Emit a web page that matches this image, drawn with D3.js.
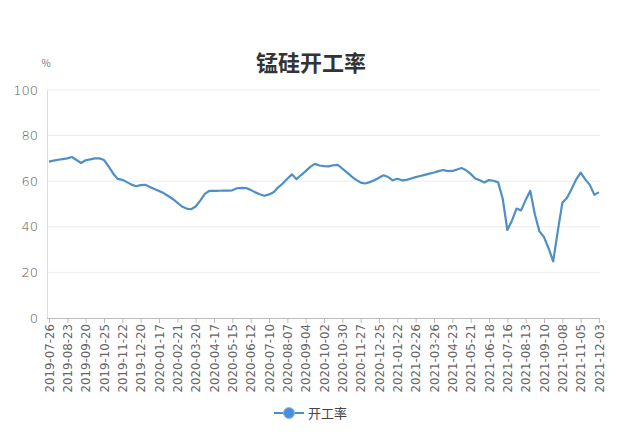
<!DOCTYPE html>
<html><head><meta charset="utf-8">
<script src="https://cdn.jsdelivr.net/npm/d3@7/dist/d3.min.js"></script>
<style>
html,body{margin:0;padding:0;background:#fff;}
svg{display:block;font-family:"Noto Sans CJK SC","Noto Sans",sans-serif;}
</style></head>
<body><svg id="c" width="644" height="440"></svg>
<script>
const title = "锰硅开工率";
const unitLabel = "%";
const seriesName = "开工率";
const yTicks = [0, 20, 40, 60, 80, 100];
const tickLabels = [
  "2019-07-26","2019-08-23","2019-09-20","2019-10-25","2019-11-22","2019-12-20",
  "2020-01-17","2020-02-21","2020-03-20","2020-04-17","2020-05-15","2020-06-12",
  "2020-07-10","2020-08-07","2020-09-04","2020-10-02","2020-10-30","2020-11-27",
  "2020-12-25","2021-01-22","2021-02-26","2021-03-26","2021-04-23","2021-05-21",
  "2021-06-18","2021-07-16","2021-08-13","2021-09-10","2021-10-08","2021-11-05",
  "2021-12-03"
];
const tickStep = 4;
const values = [
  68.6,69.0,69.4,69.7,70.0,70.6,69.3,68.0,69.2,69.6,
  70.0,70.0,69.3,66.5,63.4,61.0,60.6,59.6,58.5,57.8,
  58.3,58.4,57.5,56.6,55.7,54.8,53.5,52.2,50.6,48.9,
  48.0,47.7,48.9,51.5,54.4,55.8,55.8,55.8,55.9,55.9,
  56.0,56.9,57.1,57.0,56.2,55.1,54.3,53.6,54.2,55.2,
  57.3,59.0,61.1,63.0,60.9,62.7,64.4,66.3,67.6,66.9,
  66.6,66.5,67.0,67.2,65.5,63.9,62.1,60.6,59.4,59.0,
  59.6,60.4,61.5,62.6,61.8,60.4,61.1,60.4,60.6,61.2,
  61.8,62.3,62.8,63.3,63.8,64.4,64.9,64.4,64.5,65.1,
  65.8,64.8,63.2,61.2,60.4,59.4,60.5,60.2,59.5,52.2,
  38.6,42.7,48.0,47.2,51.8,55.8,45.5,38.0,35.5,30.6,
  24.8,38.0,50.5,52.6,56.5,60.7,63.8,60.8,58.4,54.0,
  55.2
];

const svg = d3.select("#c");
const pLeft = 47, pRight = 600, pTop = 90, pBottom = 318;
const x = d3.scaleLinear().domain([0, values.length - 1]).range([49, 599]);
const y = d3.scaleLinear().domain([0, 100]).range([pBottom, pTop]);

// gridlines
svg.append("g").selectAll("line").data(yTicks.filter(d => d > 0)).join("line")
  .attr("x1", pLeft).attr("x2", pRight)
  .attr("y1", d => y(d)).attr("y2", d => y(d))
  .attr("stroke", "#ececec").attr("stroke-width", 1);

// y axis
const ya = svg.append("g").attr("transform", `translate(${pLeft},0)`)
  .call(d3.axisLeft(y).tickValues(yTicks).tickSize(0).tickPadding(9));
ya.select(".domain").attr("stroke", "#dcdcdc");
ya.selectAll("text").attr("fill", "#5a5a5a").attr("font-size", 13)
  .attr("font-family", "'DejaVu Sans','Noto Sans',sans-serif").attr("font-weight", 300);

// x axis
const tickIdx = tickLabels.map((_, i) => i * tickStep);
const xa = svg.append("g").attr("transform", `translate(0,${pBottom})`)
  .call(d3.axisBottom(x).tickValues(tickIdx).tickSize(5)
    .tickFormat((d, i) => tickLabels[i]));
xa.select(".domain").attr("stroke", "#bbb").attr("d", `M${pLeft},0.5H${pRight}`);
xa.selectAll(".tick line").attr("stroke", "#bbb");
xa.selectAll("text")
  .attr("fill", "#666").attr("font-size", 11.8)
  .attr("font-family", "'DejaVu Sans','Noto Sans',sans-serif")
  .attr("text-anchor", "end")
  .attr("transform", "rotate(-90)")
  .attr("x", -6).attr("y", 0).attr("dy", "0.35em");

// line
const line = d3.line().x((d, i) => x(i)).y(d => y(d));
svg.append("path").datum(values).attr("d", line)
  .attr("fill", "none").attr("stroke", "#4f8fc6").attr("stroke-width", 2.2)
  .attr("stroke-linejoin", "round");

// title
svg.append("text").attr("x", 311).attr("y", 71).attr("text-anchor", "middle")
  .attr("font-size", 22).attr("font-weight", "bold").attr("fill", "#333")
  .text(title);
svg.append("text").attr("x", 46).attr("y", 67).attr("text-anchor", "middle")
  .attr("font-size", 10).attr("fill", "#777").text(unitLabel);

// legend
const lg = svg.append("g").attr("transform", "translate(289,413)");
lg.append("line").attr("x1", -15).attr("x2", 15).attr("stroke", "#4f8fc6").attr("stroke-width", 2);
lg.append("circle").attr("r", 5.5).attr("fill", "#4a90d9").attr("stroke", "#8bbbe8").attr("stroke-width", 1);
lg.append("text").attr("x", 19).attr("y", 0).attr("dy", "0.35em")
  .attr("font-size", 13).attr("fill", "#444").text(seriesName);
</script></body></html>
